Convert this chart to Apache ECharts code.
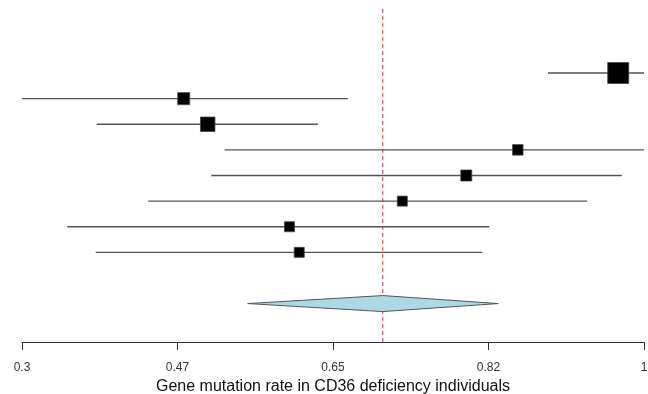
<!DOCTYPE html>
<html>
<head>
<meta charset="utf-8">
<script src="https://cdn.jsdelivr.net/npm/echarts@6/dist/echarts.min.js"></script>
<style>
  html, body { margin: 0; padding: 0; background: #fff; }
  #chart { width: 648px; height: 394px; }
</style>
</head>
<body>
<div id="chart"></div>
<script>
// row positions (top to bottom), estimates and confidence limits
const rows = [10, 9, 8, 7, 6, 5, 4, 3];
const est = [0.971, 0.482, 0.509, 0.858, 0.800, 0.728, 0.601, 0.612];
const lower = [0.892, 0.300, 0.384, 0.528, 0.513, 0.442, 0.351, 0.383];
const upper = [1.000, 0.667, 0.633, 1.000, 0.975, 0.936, 0.826, 0.818];
const weight = [21, 12, 14.5, 10.5, 11, 10, 10, 10];

// pooled estimate (diamond)
const pooledRow = 1;
const pooled = [0.554, 0.706, 0.836];
const refLine = 0.706;

const tickValues = [0.3, 0.475, 0.65, 0.825, 1];
const tickLabels = ["0.3", "0.47", "0.65", "0.82", "1"];

const chart = echarts.init(document.getElementById("chart"));

const ciData = rows.map((r, i) => [lower[i], upper[i], r]);
const pointData = rows.map((r, i) => ({ value: [est[i], r], symbolSize: weight[i] }));

const options = {
    animation: false,
    grid: { left: 22, right: 4, top: 9, bottom: 52, outerBoundsMode: "none", containLabel: false },
    xAxis: {
        type: "value",
        min: 0.3,
        max: 1,
        interval: 0.175,
        splitLine: { show: false },
        axisLine: { show: true, onZero: false, lineStyle: { color: "#333", width: 1 } },
        axisTick: { show: true, length: 8, lineStyle: { color: "#333" } },
        axisLabel: {
            color: "#333",
            fontSize: 12,
            fontFamily: "Liberation Sans",
            margin: 20,
            showMinLabel: true,
            showMaxLabel: true,
            formatter: (v) => {
                let idx = 0;
                tickValues.forEach((t, i) => {
                    if (Math.abs(t - v) < Math.abs(tickValues[idx] - v)) idx = i;
                });
                return tickLabels[idx];
            }
        },
        name: "Gene mutation rate in CD36 deficiency individuals",
        nameLocation: "middle",
        nameGap: 32,
        nameTextStyle: { color: "#111", fontSize: 16, fontFamily: "Liberation Sans" }
    },
    yAxis: {
        type: "value",
        min: -0.5,
        max: 12.5,
        show: false
    },
    series: [
        {
            // reference line at pooled estimate
            type: "custom",
            data: [[refLine]],
            renderItem: (params, api) => {
                const a = api.coord([api.value(0), 12.5]);
                const b = api.coord([api.value(0), -0.5]);
                return {
                    type: "line",
                    shape: { x1: a[0], y1: a[1], x2: b[0], y2: b[1] },
                    style: { stroke: "#ff5050", lineWidth: 1.2, lineDash: [4, 3] }
                };
            },
            z: 1
        },
        {
            // confidence intervals
            type: "custom",
            data: ciData,
            renderItem: (params, api) => {
                const a = api.coord([api.value(0), api.value(2)]);
                const b = api.coord([api.value(1), api.value(2)]);
                return {
                    type: "line",
                    shape: { x1: a[0], y1: a[1], x2: b[0], y2: b[1] },
                    style: { stroke: "#555", lineWidth: 1.4 }
                };
            },
            z: 2
        },
        {
            type: "scatter",
            symbol: "rect",
            data: pointData,
            itemStyle: { color: "#000", opacity: 1, borderColor: "#444", borderWidth: 0.8 },
            z: 3
        },
        {
            // pooled diamond
            type: "custom",
            data: [[pooled[0], pooled[1], pooled[2], pooledRow]],
            renderItem: (params, api) => {
                const y = api.value(3);
                const l = api.coord([api.value(0), y]);
                const m = api.coord([api.value(1), y]);
                const r = api.coord([api.value(2), y]);
                const h = 8;
                return {
                    type: "polygon",
                    shape: { points: [[l[0], l[1]], [m[0], m[1] - h], [r[0], r[1]], [m[0], m[1] + h]] },
                    style: { fill: "#add8e6", stroke: "#555", lineWidth: 1 }
                };
            },
            z: 2
        }
    ]
};

chart.setOption(options);
</script>
</body>
</html>
